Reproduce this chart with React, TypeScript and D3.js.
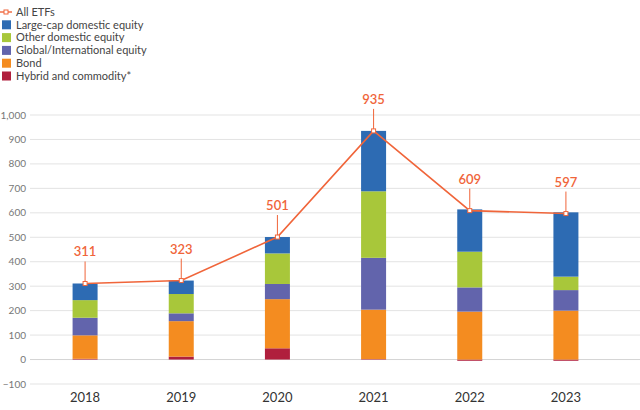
import React, { useEffect, useRef } from "react";
import * as d3 from "d3";

const years = ["2018", "2019", "2020", "2021", "2022", "2023"];
const hybrid = [3, 12, 46, 2, -5, -5];
const bond = [96, 145, 201, 202, 196, 200];
const globalIntl = [72, 32, 62, 212, 99, 84];
const otherDomestic = [72, 79, 125, 272, 146, 55];
const largeCap = [68, 55, 67, 247, 173, 263];
const allEtfs = [311, 323, 501, 935, 609, 597];
const yTicks = [-100, 0, 100, 200, 300, 400, 500, 600, 700, 800, 900, 1000];

const seriesNames = [
  "Large-cap domestic equity",
  "Other domestic equity",
  "Global/International equity",
  "Bond",
  "Hybrid and commodity*",
];
const seriesColors = ["#2d6bb3", "#a8c73a", "#6264ac", "#f48c20", "#b01f3d"];
const lineColor = "#f0653a";

const W = 640;
const H = 410;
const font = "Lato, 'Open Sans', sans-serif";

const App: React.FC = () => {
  const ref = useRef<SVGSVGElement | null>(null);

  useEffect(() => {
    if (!ref.current) return;
    const svg = d3.select(ref.current);
    svg.selectAll("*").remove();

    const y = d3.scaleLinear().domain([-100, 1000]).range([384, 115]);
    const x = d3.scalePoint<string>().domain(years).range([37, 614]).padding(0.5);
    const barW = 25;

    // gridlines + y labels
    const grid = svg.append("g");
    yTicks.forEach((t) => {
      grid
        .append("line")
        .attr("x1", 30)
        .attr("x2", W)
        .attr("y1", y(t))
        .attr("y2", y(t))
        .attr("stroke", t === 0 ? "#d4d4d4" : "#e3e3e3")
        .attr("stroke-width", 1);
      grid
        .append("text")
        .attr("x", 26)
        .attr("y", y(t))
        .attr("dy", "0.35em")
        .attr("text-anchor", "end")
        .attr("font-size", 10)
        .attr("fill", "#777")
        .attr("font-family", font)
        .text(d3.format(",")(t));
    });

    // stacked bars: bottom-up order hybrid, bond, global, other, large
    const stackOrder = [hybrid, bond, globalIntl, otherDomestic, largeCap];
    const stackColors = [seriesColors[4], seriesColors[3], seriesColors[2], seriesColors[1], seriesColors[0]];
    years.forEach((yr, i) => {
      let pos = 0;
      let neg = 0;
      stackOrder.forEach((s, k) => {
        const v = s[i];
        let y0: number, y1: number;
        if (v >= 0) {
          y0 = pos;
          y1 = pos + v;
          pos = y1;
        } else {
          y0 = neg + v;
          y1 = neg;
          neg = y0;
        }
        svg
          .append("rect")
          .attr("x", (x(yr) || 0) - barW / 2)
          .attr("width", barW)
          .attr("y", y(y1))
          .attr("height", Math.max(0, y(y0) - y(y1)))
          .attr("fill", stackColors[k]);
      });
    });

    // line
    const line = d3
      .line<number>()
      .x((_, i) => x(years[i]) || 0)
      .y((d) => y(d));
    svg
      .append("path")
      .attr("d", line(allEtfs) || "")
      .attr("fill", "none")
      .attr("stroke", lineColor)
      .attr("stroke-width", 1.6);

    allEtfs.forEach((v, i) => {
      const cx = x(years[i]) || 0;
      const cy = y(v);
      svg
        .append("line")
        .attr("x1", cx)
        .attr("x2", cx)
        .attr("y1", cy - 22)
        .attr("y2", cy)
        .attr("stroke", lineColor)
        .attr("stroke-width", 1);
      svg
        .append("rect")
        .attr("x", cx - 2)
        .attr("y", cy - 2)
        .attr("width", 4)
        .attr("height", 4)
        .attr("fill", "#fff")
        .attr("stroke", lineColor)
        .attr("stroke-width", 1);
      svg
        .append("text")
        .attr("x", cx)
        .attr("y", cy - 27)
        .attr("text-anchor", "middle")
        .attr("font-size", 13)
        .attr("font-weight", 600)
        .attr("fill", lineColor)
        .attr("font-family", font)
        .text(v);
    });

    // x labels
    years.forEach((yr) => {
      svg
        .append("text")
        .attr("x", x(yr) || 0)
        .attr("y", 402)
        .attr("text-anchor", "middle")
        .attr("font-size", 13)
        .attr("fill", "#333")
        .attr("font-family", font)
        .text(yr);
    });

    // legend
    const lg = svg.append("g");
    const rowH = 12.8;
    const ly0 = 12;
    lg.append("line")
      .attr("x1", 0)
      .attr("x2", 12)
      .attr("y1", ly0)
      .attr("y2", ly0)
      .attr("stroke", lineColor)
      .attr("stroke-width", 1.4);
    lg.append("rect")
      .attr("x", 4)
      .attr("y", ly0 - 2)
      .attr("width", 4)
      .attr("height", 4)
      .attr("fill", "#fff")
      .attr("stroke", lineColor);
    lg.append("text")
      .attr("x", 16)
      .attr("y", ly0)
      .attr("dy", "0.35em")
      .attr("font-size", 11)
      .attr("fill", "#444")
      .attr("font-family", font)
      .text("All ETFs");
    seriesNames.forEach((n, i) => {
      const cy = ly0 + rowH * (i + 1);
      lg.append("rect")
        .attr("x", 2)
        .attr("y", cy - 4.5)
        .attr("width", 9)
        .attr("height", 9)
        .attr("fill", seriesColors[i]);
      lg.append("text")
        .attr("x", 16)
        .attr("y", cy)
        .attr("dy", "0.35em")
        .attr("font-size", 11)
        .attr("fill", "#444")
        .attr("font-family", font)
        .text(n);
    });
  }, []);

  return (
    <svg
      ref={ref}
      width={W}
      height={H}
      style={{ position: "absolute", left: 0, top: 0, background: "#fff" }}
    />
  );
};

export default App;
